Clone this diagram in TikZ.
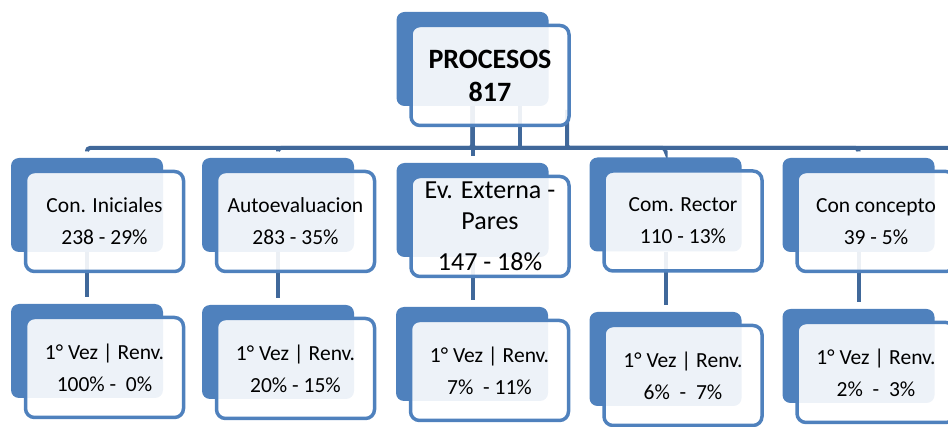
\documentclass[tikz,border=0pt]{standalone}
\usepackage{fontspec}
\setmainfont{Carlito}
\usetikzlibrary{calc}
\definecolor{sablue}{RGB}{79,129,189}
\definecolor{conblue}{RGB}{64,104,154}
\pgfdeclarelayer{bg}
\pgfsetlayers{bg,main}
\begin{document}
\begin{tikzpicture}[x=1pt,y=-1pt,
  backbox/.style={fill=sablue, rounded corners=8pt, minimum width=152pt, minimum height=94pt, inner sep=0pt, draw=none},
  frontbox/.style={draw=sablue, line width=3.5pt, fill=white, fill opacity=0.9, text opacity=1, rounded corners=9pt, minimum width=158pt, minimum height=100pt, inner sep=0pt, align=center, font=\fontsize{21.5}{32}\selectfont},
  conn/.style={draw=conblue, line width=4pt, rounded corners=3pt, shorten >=6.5pt},
]
\useasboundingbox (0,0) rectangle (948,427);

% root
\node[backbox] (rb) at (472.5,59) {};
\node[frontbox, font=\bfseries\fontsize{28}{33}\selectfont] (rf) at (490,75.5) {PROCESOS\\817};

% level 1
\node[backbox] (b1) at (87,205) {};
\node[frontbox] (f1) at (104.5,221.5) {Con. Iniciales\\238 - 29\%};
\node[backbox] (b2) at (278,205) {};
\node[frontbox] (f2) at (295.5,221.5) {Autoevaluacion\\283 - 35\%};
\node[backbox] (b3) at (472.5,210) {};
\node[frontbox, font=\fontsize{26}{31}\selectfont] (f3) at (490,226.5) {Ev. Externa -\\Pares\\[10pt]147 - 18\%};
\node[backbox] (b4) at (665.5,204.5) {};
\node[frontbox] (f4) at (683,221) {Com. Rector\\110 - 13\%};
\node[backbox] (b5) at (858.5,205) {};
\node[frontbox] (f5) at (876,221.5) {Con concepto\\39 - 5\%};

% level 2
\node[backbox] (d1) at (87,351) {};
\node[frontbox] (g1) at (104.5,367.5) {1° Vez | Renv.\\100\% -\ \ 0\%};
\node[backbox] (d2) at (278,352) {};
\node[frontbox] (g2) at (295.5,368.5) {1° Vez | Renv.\\20\% - 15\%};
\node[backbox] (d3) at (472,354) {};
\node[frontbox] (g3) at (489.5,370.5) {1° Vez | Renv.\\7\%\ \ - 11\%};
\node[backbox] (d4) at (665.5,359) {};
\node[frontbox] (g4) at (683,375.5) {1° Vez | Renv.\\6\%\ \ -\ \ 7\%};
\node[backbox] (d5) at (858.5,356) {};
\node[frontbox] (g5) at (876,372.5) {1° Vez | Renv.\\2\%\ \ -\ \ 3\%};

\begin{pgfonlayer}{bg}
  \coordinate (bus) at (472.5,148);
  \coordinate (r2) at (520,106);
  \coordinate (r3) at (567,110);
  \coordinate (busend) at (948,148);
  \draw[conn] (rb.south) -- (bus) -| (b1.north);
  \draw[conn] (rb.south) -- (bus) -| (b2.north);
  \draw[conn] (rb.south) -- (b3.north);
  \draw[conn] (rb.south) -- (bus) -| (b4.north);
  \draw[conn] (rb.south) -- (bus) -| (b5.north);
  \draw[conn, shorten >=0pt] (r2) -- (r2 |- bus);
  \draw[conn, shorten >=0pt] (r3) |- (busend);
  \draw[conn] (b1.south) -- (b1.south |- d1.north);
  \draw[conn] (b2.south) -- (b2.south |- d2.north);
  \draw[conn] (b3.south) -- (b3.south |- d3.north);
  \draw[conn] (b4.south) -- (b4.south |- d4.north);
  \draw[conn] (b5.south) -- (b5.south |- d5.north);
\end{pgfonlayer}
\end{tikzpicture}
\end{document}
